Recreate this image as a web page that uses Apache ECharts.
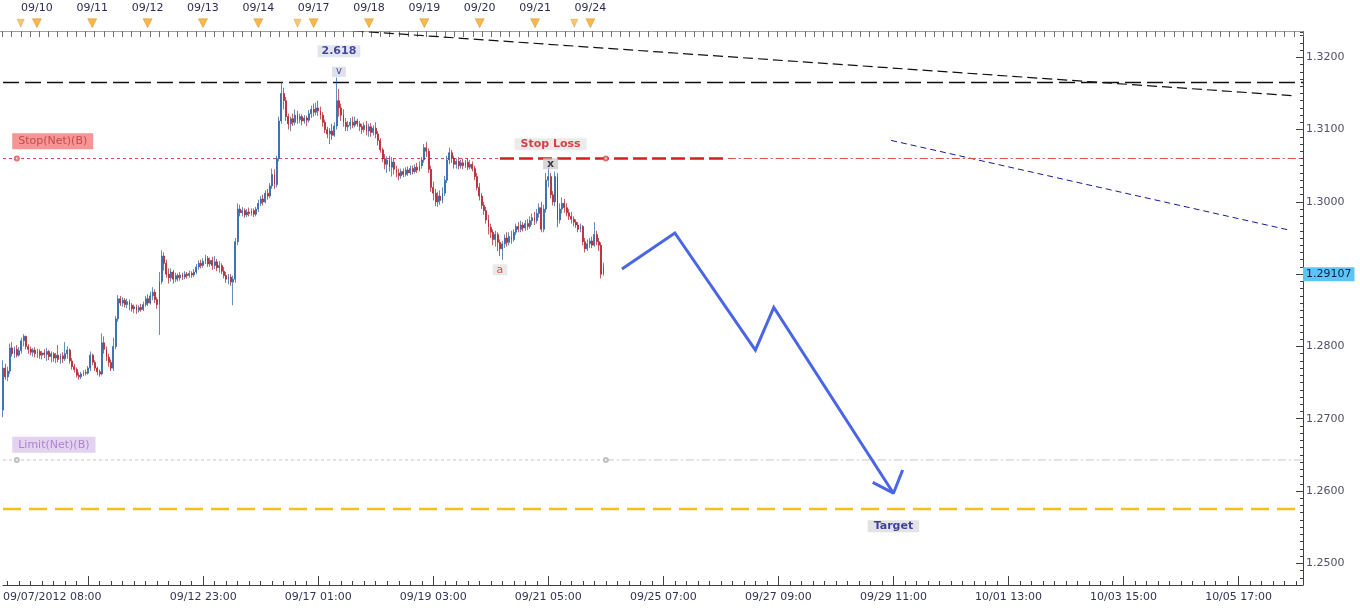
<!DOCTYPE html>
<html><head><meta charset="utf-8">
<script src="https://cdn.jsdelivr.net/npm/echarts@6/dist/echarts.min.js"></script>
<style>html,body{margin:0;padding:0;background:#fff}#c{width:1360px;height:608px}</style>
</head><body><div id="c"></div><script>
// ---------- DATA ----------
const N_SLOTS = 566; // hourly slots on the time axis (history + projection space)
// hourly candles: [open, close, low, high] in 1/10000 (12770 = 1.2770)
const candles = [
[12712,12770,12702,12781],[12770,12758,12754,12776],[12758,12766,12752,12772],[12766,12798,12762,12804],[12798,12790,12786,12806],[12790,12796,12784,12800],[12796,12788,12785,12802],[12788,12794,12786,12799],[12794,12808,12790,12812],[12808,12814,12800,12817],
[12814,12800,12796,12815],[12800,12796,12790,12803],[12796,12792,12788,12800],[12792,12795,12786,12798],[12795,12790,12785,12799],[12790,12793,12784,12797],[12793,12788,12783,12796],[12788,12791,12782,12794],[12791,12789,12784,12796],[12789,12793,12780,12798],
[12793,12786,12781,12795],[12786,12790,12778,12793],[12790,12784,12779,12792],[12784,12788,12777,12791],[12788,12782,12778,12802],[12782,12787,12776,12790],[12787,12783,12777,12792],[12783,12790,12780,12806],[12790,12795,12783,12800],[12795,12780,12776,12797],
[12780,12772,12768,12784],[12772,12768,12764,12776],[12768,12760,12757,12771],[12760,12758,12754,12764],[12758,12762,12755,12765],[12762,12764,12759,12767],[12764,12763,12760,12768],[12763,12770,12761,12773],[12770,12788,12766,12793],[12788,12778,12774,12790],
[12778,12770,12766,12781],[12770,12765,12760,12772],[12765,12762,12758,12768],[12762,12805,12760,12818],[12805,12796,12790,12814],[12796,12785,12780,12800],[12785,12778,12772,12790],[12778,12770,12766,12782],[12770,12800,12766,12812],[12800,12838,12796,12842],
[12838,12866,12834,12871],[12866,12860,12856,12870],[12860,12864,12855,12868],[12864,12858,12854,12867],[12858,12862,12853,12866],[12862,12857,12850,12865],[12857,12852,12848,12860],[12852,12855,12846,12858],[12855,12850,12845,12858],[12850,12854,12847,12857],
[12854,12851,12848,12859],[12851,12858,12849,12862],[12858,12866,12855,12870],[12866,12860,12856,12872],[12860,12870,12858,12876],[12870,12875,12864,12882],[12875,12865,12860,12879],[12865,12858,12852,12868],[12858,12890,12816,12903],[12890,12925,12886,12933],
[12925,12915,12905,12930],[12915,12900,12895,12920],[12900,12895,12887,12908],[12895,12903,12890,12908],[12903,12893,12887,12906],[12893,12898,12889,12902],[12898,12895,12890,12901],[12895,12899,12891,12903],[12899,12896,12892,12902],[12896,12900,12893,12904],
[12900,12898,12894,12903],[12898,12901,12895,12905],[12901,12899,12895,12904],[12899,12903,12896,12907],[12903,12910,12900,12914],[12910,12915,12906,12919],[12915,12912,12908,12920],[12912,12918,12909,12922],[12918,12922,12914,12927],[12922,12914,12910,12925],
[12914,12919,12910,12923],[12919,12912,12906,12924],[12912,12917,12907,12925],[12917,12909,12904,12921],[12909,12912,12902,12918],[12912,12904,12900,12915],[12904,12898,12894,12910],[12898,12893,12888,12903],[12893,12896,12886,12900],[12896,12889,12884,12900],
[12889,12893,12857,12898],[12893,12945,12888,12950],[12945,12990,12940,12998],[12990,12985,12980,12996],[12985,12988,12980,12993],[12988,12982,12978,12991],[12982,12986,12979,12990],[12986,12984,12980,12992],[12984,12988,12981,12991],[12988,12983,12979,12991],
[12983,12990,12980,12993],[12990,12998,12986,13003],[12998,13004,12994,13008],[13004,13000,12995,13010],[13000,13012,12998,13016],[13012,13008,13003,13018],[13008,13022,13005,13026],[13022,13038,13018,13046],[13038,13024,13018,13045],[13024,13060,13020,13064],
[13060,13112,13056,13118],[13112,13150,13108,13166],[13150,13140,13128,13158],[13140,13118,13112,13145],[13118,13108,13100,13122],[13108,13115,13098,13118],[13115,13110,13105,13122],[13110,13120,13106,13128],[13120,13114,13108,13126],[13114,13118,13109,13122],
[13118,13112,13106,13121],[13112,13116,13108,13120],[13116,13113,13105,13119],[13113,13122,13110,13127],[13122,13128,13116,13133],[13128,13124,13118,13136],[13124,13130,13120,13137],[13130,13126,13119,13140],[13126,13120,13114,13132],[13120,13110,13104,13124],
[13110,13100,13095,13114],[13100,13094,13088,13104],[13094,13098,13080,13102],[13098,13092,13086,13108],[13092,13105,13090,13110],[13105,13140,13100,13172],[13140,13130,13118,13156],[13130,13120,13112,13136],[13120,13110,13104,13128],[13110,13104,13098,13116],
[13104,13106,13098,13112],[13106,13110,13100,13116],[13110,13106,13102,13118],[13106,13112,13103,13118],[13112,13108,13104,13115],[13108,13104,13098,13112],[13104,13100,13094,13108],[13100,13106,13096,13110],[13106,13098,13092,13112],[13098,13104,13090,13108],
[13104,13096,13090,13109],[13096,13102,13092,13106],[13102,13094,13088,13110],[13094,13085,13078,13098],[13085,13072,13068,13088],[13072,13060,13055,13075],[13060,13052,13045,13066],[13052,13058,13040,13063],[13058,13048,13042,13064],[13048,13055,13035,13062],
[13055,13045,13038,13060],[13045,13040,13034,13050],[13040,13036,13030,13046],[13036,13042,13032,13046],[13042,13038,13034,13046],[13038,13044,13035,13048],[13044,13040,13036,13049],[13040,13046,13037,13050],[13046,13042,13038,13050],[13042,13048,13039,13052],
[13048,13044,13040,13054],[13044,13050,13042,13056],[13050,13058,13046,13062],[13058,13075,13054,13080],[13075,13070,13062,13083],[13070,13045,13040,13074],[13045,13020,13014,13050],[13020,13012,13002,13028],[13012,13000,12994,13018],[13000,13008,12993,13014],
[13008,13002,12996,13016],[13002,13012,12998,13020],[13012,13030,13008,13036],[13030,13058,13026,13064],[13058,13068,13052,13075],[13068,13060,13054,13072],[13060,13052,13046,13064],[13052,13056,13046,13060],[13056,13050,13045,13062],[13050,13054,13046,13058],
[13054,13050,13045,13060],[13050,13055,13047,13058],[13055,13048,13044,13060],[13048,13052,13045,13058],[13052,13046,13042,13056],[13046,13035,13030,13050],[13035,13020,13016,13040],[13020,13008,13002,13026],[13008,12995,12990,13012],[12995,12988,12982,13000],
[12988,12975,12970,12993],[12975,12965,12955,12982],[12965,12958,12950,12970],[12958,12948,12940,12962],[12948,12955,12938,12960],[12955,12944,12932,12958],[12944,12935,12925,12948],[12935,12942,12920,12946],[12942,12950,12936,12955],[12950,12944,12938,12958],
[12944,12952,12940,12958],[12952,12948,12942,12960],[12948,12958,12945,12962],[12958,12966,12954,12970],[12966,12962,12958,12972],[12962,12968,12958,12974],[12968,12964,12959,12972],[12964,12970,12960,12975],[12970,12966,12961,12976],[12966,12974,12963,12980],
[12974,12978,12968,12984],[12978,12974,12968,12986],[12974,12984,12970,12990],[12984,12992,12978,12998],[12992,12962,12958,13000],[12962,12990,12958,12996],[12990,13030,12985,13040],[13030,13035,13020,13048],[13035,13010,13005,13040],[13010,13000,12995,13015],
[13000,13035,12994,13042],[13035,12975,12965,13040],[12975,12990,12970,12998],[12990,12998,12984,13006],[12998,12992,12985,13004],[12992,12985,12980,12998],[12985,12980,12975,12990],[12980,12976,12970,12986],[12976,12972,12966,12980],[12972,12968,12964,12976],
[12968,12962,12958,12972],[12962,12966,12958,12970],[12966,12945,12940,12968],[12945,12935,12930,12950],[12935,12942,12932,12948],[12942,12946,12936,12950],[12946,12940,12936,12952],[12940,12955,12938,12972],[12955,12945,12940,12960],[12945,12940,12932,12950],
[12940,12900,12894,12944],[12900,12911,12898,12916]
];
const bottomTickBars   = [0, 87, 137, 187, 237, 287, 337, 387, 437, 487, 537];
const bottomTickLabels = ['09/07/2012 08:00','09/12 23:00','09/17 01:00','09/19 03:00','09/21 05:00','09/25 07:00','09/27 09:00','09/29 11:00','10/01 13:00','10/03 15:00','10/05 17:00'];
const dayBars   = [16, 40, 64, 88, 112, 136, 160, 184, 208, 232, 256];
const dayLabels = ['09/10','09/11','09/12','09/13','09/14','09/17','09/18','09/19','09/20','09/21','09/24'];
const sessionBars = [9, 129, 249];
const lastPrice  = 1.29107;
const resistance = 1.3165;
const stopNet    = 1.3060;
const limitNet   = 1.2643;
const target     = 1.2575;
const trendBlack = [[146, 1.3238], [560, 1.3147]];
const trendBlue  = [[386, 1.3085], [559, 1.2961]];
const projection = [[269, 1.2907], [292, 1.2957], [327, 1.2795], [335, 1.2854], [387, 1.2597]];
const arrowHead  = [[378, 1.2612], [387, 1.2597], [391, 1.2629]];
const stopLossSeg = [[216, 1.3060], [315, 1.3060]];
const notes = [
  {t:'2.618', x:146, y:1.32083, kind:'fib'},
  {t:'v', x:146, y:1.31799, kind:'wave'},
  {t:'Stop Loss', x:238, y:1.30797, kind:'stop'},
  {t:'x', x:238, y:1.30527, kind:'x'},
  {t:'a', x:216, y:1.29061, kind:'a'},
  {t:'Target', x:387, y:1.25513, kind:'target'}
];

// ---------- CHART ----------
const FONT = 'DejaVu Sans';
const cats = Array.from({length: N_SLOTS}, (_, i) => String(i));
const ohlc = candles.map(c => c.map(v => v / 10000));
const YMIN = 1.247, YMAX = 1.3235;

const noteStyles = {
  fib:    {backgroundColor:'#dcdfeb', color:'#1a1a8c', fontWeight:'bold', fontSize:11, padding:[1,4,0,4]},
  wave:   {backgroundColor:'#d6dae6', color:'#1a1a8c', fontSize:10, padding:[0,4,0,4]},
  stop:   {backgroundColor:'#e6e6e6', color:'#d41414', fontWeight:'bold', fontSize:11, padding:[1,6,0,6]},
  x:      {backgroundColor:'#cdcdcd', color:'#111111', fontWeight:'bold', fontSize:11, padding:[0,4,0,4]},
  a:      {backgroundColor:'#e6e2e2', color:'#c83030', fontSize:11, padding:[0,4,0,4]},
  target: {backgroundColor:'#dcdcdc', color:'#14148c', fontWeight:'bold', fontSize:11, padding:[1,6,0,6]}
};

function hline(name, v, x0, x1, color, width, type, z) {
  return {type:'line', name, xAxisIndex:0, yAxisIndex:0, data:[[x0, v],[x1, v]], symbol:'none', silent:true, z:z||2,
    lineStyle:{color, width, type}, animation:false};
}

const option = {
  animation:false,
  backgroundColor:'#ffffff',
  grid:[
    {left:0, right:57, top:32, bottom:23},
    {left:0, right:57, top:18, height:13}
  ],
  xAxis:[
    {type:'category', gridIndex:0, data:cats, boundaryGap:false, position:'bottom',
     axisLine:{lineStyle:{color:'#404040'}},
     axisTick:{inside:true, length:4, interval:(i)=> i % 5 === 2, lineStyle:{color:'#404040'}},
     axisLabel:{interval:(i)=> bottomTickBars.indexOf(i) >= 0,
       formatter:(v, i)=> { const k = bottomTickBars.indexOf(i); return k >= 0 ? bottomTickLabels[k] : ''; },
       alignMinLabel:'left', color:'#333355', fontFamily:FONT, fontSize:11, margin:7},
     splitLine:{show:false}},
    {type:'category', gridIndex:0, data:cats, boundaryGap:false, position:'bottom',
     axisLine:{show:false}, axisLabel:{show:false}, splitLine:{show:false},
     axisTick:{inside:true, length:9, interval:(i)=> i % 50 === 37, lineStyle:{color:'#404040'}}},
    {type:'category', gridIndex:1, data:cats, boundaryGap:false, position:'top',
     axisLine:{show:false}, splitLine:{show:false},
     axisTick:{inside:true, length:6, interval:(i)=> i % 4 === 1, lineStyle:{color:'#707070'}},
     axisLabel:{interval:(i)=> dayBars.indexOf(i) >= 0,
       formatter:(v, i)=> { const k = dayBars.indexOf(i); return k >= 0 ? dayLabels[k] : ''; },
       color:'#2c2c50', fontFamily:FONT, fontSize:11, margin:4}},
    {type:'category', gridIndex:1, data:cats, boundaryGap:false, position:'bottom',
     axisLine:{lineStyle:{color:'#a0a0a0'}}, axisTick:{show:false}, axisLabel:{show:false}, splitLine:{show:false}}
  ],
  yAxis:[
    {type:'value', gridIndex:0, position:'right', min:YMIN, max:YMAX, splitNumber:8,
     axisLine:{show:true, lineStyle:{color:'#404040'}},
     axisTick:{show:true, inside:true, length:7, lineStyle:{color:'#404040'}},
     splitLine:{show:false},
     axisLabel:{color:'#505068', fontFamily:FONT, fontSize:11, margin:3, showMinLabel:false, showMaxLabel:false,
       formatter:(v)=> (Math.abs(v*100 - Math.round(v*100)) < 1e-6 ? v.toFixed(4) : '')}},
    {type:'value', gridIndex:0, position:'right', min:YMIN, max:YMAX, interval:0.001,
     axisLine:{show:false}, axisLabel:{show:false}, splitLine:{show:false},
     axisTick:{show:true, inside:true, length:3, lineStyle:{color:'#404040'}}},
    {type:'value', gridIndex:1, min:0, max:1, show:false}
  ],
  series:[
    hline('resistance', resistance, 0, N_SLOTS-1, '#111111', 1.5, [16,6], 2),
    {type:'line', name:'trendBlack', data:trendBlack, symbol:'none', silent:true, z:2,
     lineStyle:{color:'#111111', width:1.2, type:[10,5]}},
    {type:'line', name:'trendBlue', data:trendBlue, symbol:'none', silent:true, z:2,
     lineStyle:{color:'#1a1a99', width:1, type:[6,4]}},
    hline('stopNetL', stopNet, 0, 216, '#d65050', 1, [3,3], 2),
    hline('stopNetR', stopNet, 315, N_SLOTS-1, '#d65050', 1, [8,3,2,3], 2),
    {type:'line', name:'stopLoss', data:stopLossSeg, symbol:'none', silent:true, z:2,
     lineStyle:{color:'#d42020', width:2.5, type:[14,5]}},
    hline('limitNetL', limitNet, 0, 262, '#c4c4c4', 1, [3,3], 2),
    hline('limitNetR', limitNet, 262, N_SLOTS-1, '#c4c4c4', 1, [8,3,2,3], 2),
    hline('target', target, 0, N_SLOTS-1, '#f2c21b', 2.5, [18,8], 2),
    {type:'scatter', name:'orderDots', symbol:'emptyCircle', symbolSize:4, silent:true, z:3,
     data:[{value:[6, stopNet], itemStyle:{color:'#d65050'}}, {value:[262, stopNet], itemStyle:{color:'#d65050'}},
           {value:[6, limitNet], itemStyle:{color:'#b0b0b0'}}, {value:[262, limitNet], itemStyle:{color:'#b0b0b0'}}]},
    {type:'candlestick', name:'EURUSD', data:ohlc, barWidth:1.4, z:3,
     itemStyle:{color:'#1d5ca3', color0:'#b0151f', borderColor:'#1d5ca3', borderColor0:'#b0151f', borderWidth:0.7},
     markLine:{silent:true, symbol:'none', animation:false,
       lineStyle:{width:0, color:'transparent'},
       label:{show:true, position:'end', distance:0, formatter:lastPrice.toFixed(5),
              backgroundColor:'#5bc6f4', color:'#0a2040', fontFamily:FONT, fontSize:11, padding:[2,3,1,3]},
       data:[{yAxis:lastPrice}]}},
    {type:'line', name:'projection', data:projection, symbol:'none', silent:true, z:4,
     lineStyle:{color:'#4a66e6', width:3, join:'miter'}},
    {type:'line', name:'arrow', data:arrowHead, symbol:'none', silent:true, z:4,
     lineStyle:{color:'#4a66e6', width:3}},
    {type:'scatter', name:'notes', symbol:'rect', symbolSize:0, silent:true, z:5,
     data: notes.map(n => ({value:[n.x, n.y],
       label:Object.assign({show:true, position:'inside', formatter:n.t, fontFamily:FONT}, noteStyles[n.kind])}))},
    {type:'scatter', name:'orderLabels', symbol:'rect', symbolSize:0, silent:true, z:5,
     data:[
       {value:[4, 1.30838], label:{show:true, position:'right', distance:0, formatter:'Stop(Net)(B)', fontFamily:FONT, fontSize:11,
         color:'#b83a3a', backgroundColor:'#f27b7b', padding:[3,6,2,6]}},
       {value:[4, 1.26641], label:{show:true, position:'right', distance:0, formatter:'Limit(Net)(B)', fontFamily:FONT, fontSize:11,
         color:'#a070c8', backgroundColor:'#dcc8ee', padding:[3,6,2,6]}}
     ]},
    {type:'scatter', name:'dayMarks', xAxisIndex:2, yAxisIndex:2, symbol:'triangle', symbolRotate:180, symbolSize:[9,9], silent:true,
     itemStyle:{color:'#f5a623', borderColor:'#d08010', borderWidth:0.5},
     data: dayBars.map(b => [b, 0.6])},
    {type:'scatter', name:'sessionMarks', xAxisIndex:2, yAxisIndex:2, symbol:'triangle', symbolRotate:180, symbolSize:[7,8], silent:true,
     itemStyle:{color:'#f7b850', borderColor:'#d89030', borderWidth:0.5},
     data: sessionBars.map(b => [b, 0.6])}
  ]
};
const chart = echarts.init(document.getElementById('c'), null, {renderer:'canvas'});
chart.setOption(option);
</script></body></html>
